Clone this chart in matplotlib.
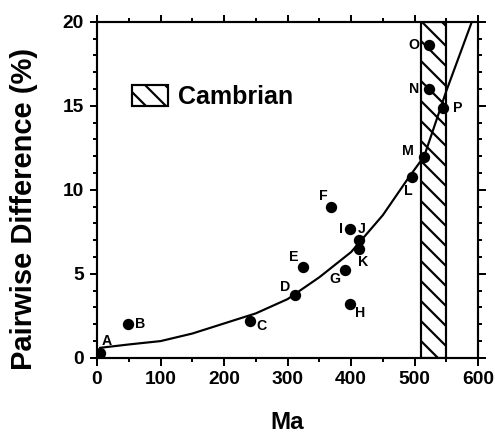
import numpy as np
import matplotlib
matplotlib.use('Agg')
import matplotlib.pyplot as plt
from matplotlib.ticker import MultipleLocator

plt.rcParams['font.family'] = ['Liberation Sans', 'DejaVu Sans']
plt.rcParams['font.weight'] = 'bold'
plt.rcParams['hatch.linewidth'] = 1.3

# sample points (Ma, pairwise difference %)
names = ['A', 'B', 'C', 'D', 'E', 'F', 'G', 'H', 'I', 'J', 'K', 'L', 'M', 'N', 'O', 'P']
ma = [5, 49, 241, 312, 325, 369, 391, 398, 398, 412, 412, 496, 515, 523, 523, 545]
diff = [0.3, 2.0, 2.2, 3.75, 5.4, 9.0, 5.25, 3.2, 7.7, 7.0, 6.5, 10.75, 11.95, 16.0, 18.6, 14.9]

# fitted curve
curve_ma = [5, 50, 100, 150, 200, 250, 300, 350, 400, 450, 490, 515, 550, 590]
curve_diff = [0.6, 0.8, 1.0, 1.45, 2.05, 2.65, 3.5, 4.8, 6.3, 8.5, 10.7, 12.0, 15.9, 20.0]

cambrian = (510, 550)

# label offsets in points
offs = {'A': (4, 7), 'B': (7, 0), 'C': (7, -3), 'D': (-6, 5), 'E': (-6, 6),
        'F': (-5, 6.5), 'G': (-6.5, -5.5), 'H': (6, -5.5), 'I': (-5.5, 0),
        'J': (2, 7), 'K': (2.5, -8), 'L': (-2, -8), 'M': (-9.5, 3.5),
        'N': (-9, 0), 'O': (-9, 0), 'P': (8.5, 0)}

fig = plt.figure(figsize=(495/120, 437/120), dpi=120)
ax = fig.add_axes([0.196, 0.181, 0.770, 0.769])

ax.axvspan(cambrian[0], cambrian[1], facecolor='white', edgecolor='black',
           hatch='\\\\', linewidth=1.3, label='Cambrian', zorder=1)
ax.plot(curve_ma, curve_diff, color='black', lw=1.3, zorder=3)
ax.plot(ma, diff, 'o', color='black', ms=5.8, zorder=4)

for n, x, y in zip(names, ma, diff):
    ax.annotate(n, (x, y), xytext=offs[n], textcoords='offset points',
                ha='center', va='center', fontsize=8.5, fontweight='bold')

ax.set_xlim(0, 600)
ax.set_ylim(0, 20)
ax.xaxis.set_major_locator(MultipleLocator(100))
ax.xaxis.set_minor_locator(MultipleLocator(50))
ax.yaxis.set_major_locator(MultipleLocator(5))
ax.yaxis.set_minor_locator(MultipleLocator(1))
ax.tick_params(which='both', direction='out', top=True, right=True, width=1.2,
               labelsize=11.5)
ax.tick_params(which='major', length=4.5)
ax.tick_params(which='minor', length=2.5)
for s in ax.spines.values():
    s.set_linewidth(1.3)

ax.set_xlabel('Ma', fontsize=14.5, fontweight='bold')
ax.set_ylabel('Pairwise Difference (%)', fontsize=17.5, fontweight='bold')
ax.xaxis.set_label_coords(0.5, -0.158)
ax.yaxis.set_label_coords(-0.155, 0.443)

ax.legend(loc='center left', bbox_to_anchor=(0.091, 0.776), frameon=False,
          borderpad=0, borderaxespad=0, handlelength=1.45, handleheight=0.9,
          handletextpad=0.42, prop={'size': 15, 'weight': 'bold'})

fig.savefig('out.png', dpi=120)
